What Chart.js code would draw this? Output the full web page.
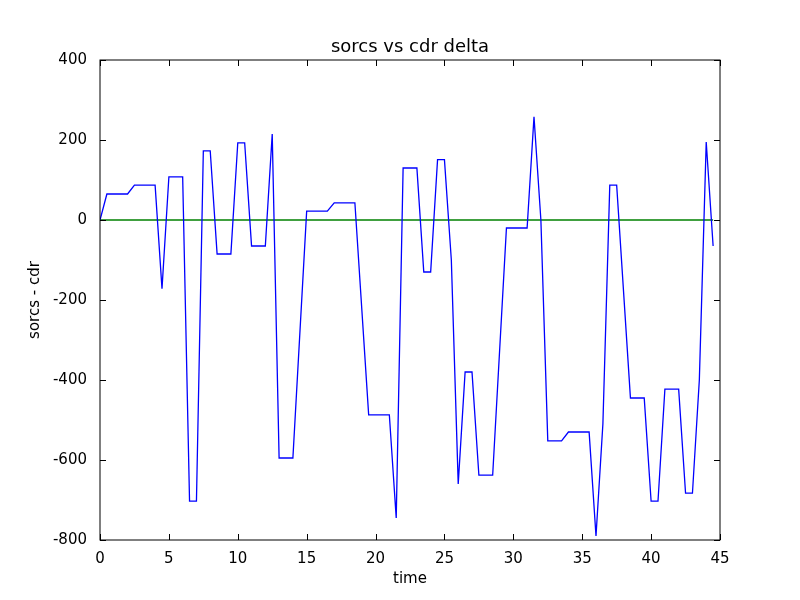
<!DOCTYPE html>
<html>
<head>
<meta charset="utf-8">
<script src="https://cdn.jsdelivr.net/npm/chart.js@4"></script>
<style>
  body { margin: 0; background: #fff; }
  #wrap { width: 800px; height: 600px; }
</style>
</head>
<body>
<div id="wrap"><canvas id="grafik" width="800" height="600"></canvas></div>
<script>
// vertices of the delta line (time, sorcs - cdr)
const times = [0, 0.5, 2, 2.5, 4, 4.5, 5, 6, 6.5, 7, 7.5, 8, 8.5, 9.5, 10, 10.5, 11, 12, 12.5, 13, 14, 15, 16.5, 17, 18.5, 19.5, 21, 21.5, 22, 23, 23.5, 24, 24.5, 25, 25.5, 26, 26.5, 27, 27.5, 28.5, 29.5, 31, 31.5, 32, 32.5, 33.5, 34, 35.5, 36, 36.5, 37, 37.5, 38.5, 39.5, 40, 40.5, 41, 42, 42.5, 43, 43.5, 44, 44.5];
const deltas = [0, 65, 65, 87, 87, -172, 108, 108, -703, -703, 173, 173, -85, -85, 193, 193, -65, -65, 215, -595, -595, 22, 22, 43, 43, -487, -487, -745, 130, 130, -130, -130, 151, 151, -100, -660, -380, -380, -638, -638, -20, -20, 258, 0, -552, -552, -530, -530, -790, -510, 87, 87, -445, -445, -703, -703, -423, -423, -683, -683, -400, 195, -65];
const zeroLine = [[0, 0], [44.5, 0]];
const xTicks = [0, 5, 10, 15, 20, 25, 30, 35, 40, 45];
const yTicks = [-800, -600, -400, -200, 0, 200, 400];
const chartTitle = 'sorcs vs cdr delta';

const font = { family: 'DejaVu Sans', size: 15 };

// matplotlib classic style: box all round, ticks pointing inward on every side,
// title centred over the plot area
const boxTicks = {
    id: 'boxTicks',
    afterDraw(chart) {
        const ctx = chart.ctx;
        const a = chart.chartArea;
        const xs = chart.scales.x, ys = chart.scales.y;
        ctx.save();
        ctx.strokeStyle = '#000';
        ctx.lineWidth = 1;
        xTicks.forEach(v => {
            const p = Math.round(xs.getPixelForValue(v)) + 0.5;
            ctx.beginPath();
            ctx.moveTo(p, a.bottom); ctx.lineTo(p, a.bottom - 6);
            ctx.moveTo(p, a.top); ctx.lineTo(p, a.top + 6);
            ctx.stroke();
        });
        yTicks.forEach(v => {
            const p = Math.round(ys.getPixelForValue(v)) + 0.5;
            ctx.beginPath();
            ctx.moveTo(a.left, p); ctx.lineTo(a.left + 6, p);
            ctx.moveTo(a.right, p); ctx.lineTo(a.right - 6, p);
            ctx.stroke();
        });
        ctx.strokeRect(a.left, a.top, a.right - a.left, a.bottom - a.top);
        ctx.fillStyle = '#000';
        ctx.font = '18px "DejaVu Sans"';
        ctx.textAlign = 'center';
        ctx.textBaseline = 'alphabetic';
        ctx.fillText(chartTitle, (a.left + a.right) / 2, a.top - 8);
        ctx.restore();
    }
};

new Chart(document.getElementById('grafik'), {
    type: 'line',
    data: {
        datasets: [{
            data: times.map((t, i) => ({ x: t, y: deltas[i] })),
            borderColor: '#0000ff',
            borderWidth: 1.3,
            pointRadius: 0,
            tension: 0
        }, {
            data: zeroLine.map(p => ({ x: p[0], y: p[1] })),
            borderColor: '#008000',
            borderWidth: 1.5,
            pointRadius: 0
        }]
    },
    options: {
        responsive: false,
        animation: false,
        devicePixelRatio: 1,
        layout: { padding: { top: 60, right: 80, bottom: 12, left: 26 } },
        plugins: {
            legend: { display: false },
            tooltip: { enabled: false }
        },
        scales: {
            x: {
                type: 'linear',
                min: 0, max: 45,
                afterBuildTicks: s => { s.ticks = xTicks.map(v => ({ value: v })); },
                afterFit: s => { s.height = 48; },
                grid: { display: false },
                border: { display: false },
                ticks: { color: '#000', font: font, padding: 2, maxRotation: 0 },
                title: { display: true, text: 'time', color: '#000', font: font, padding: 0 }
            },
            y: {
                min: -800, max: 400,
                afterBuildTicks: s => { s.ticks = yTicks.map(v => ({ value: v })); },
                afterFit: s => { s.width = 74; },
                grid: { display: false },
                border: { display: false },
                ticks: { color: '#000', font: font, padding: 5 },
                title: { display: true, text: 'sorcs - cdr', color: '#000', font: font, padding: 0 }
            }
        }
    },
    plugins: [boxTicks]
});
</script>
</body>
</html>
